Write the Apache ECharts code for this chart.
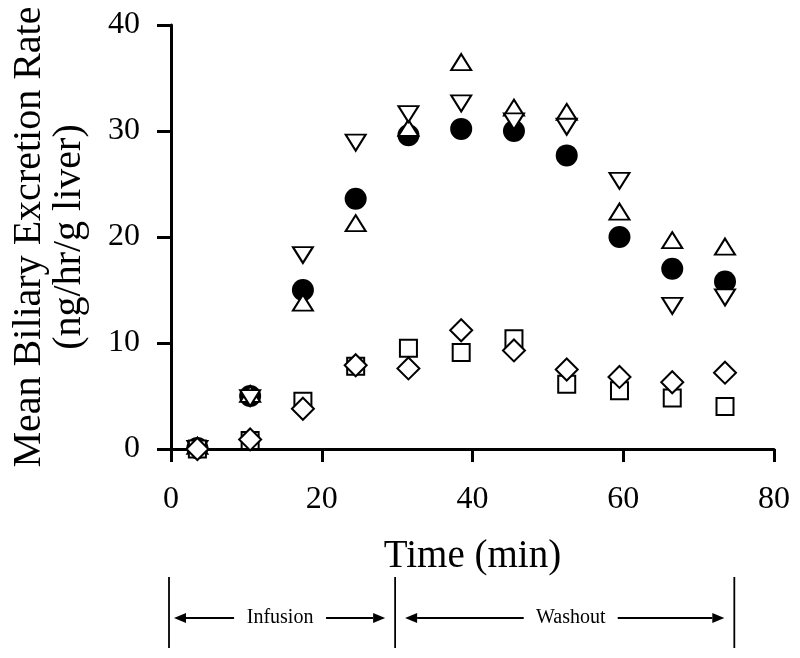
<!DOCTYPE html>
<html>
<head>
<meta charset="utf-8">
<script src="https://cdn.jsdelivr.net/npm/echarts@6/dist/echarts.min.js"></script>
<style>
html,body{margin:0;padding:0;background:#fff;}
#chart{width:800px;height:658px;}
</style>
</head>
<body>
<div id="chart"></div>
<script>
// ---- data ----
const timeMin = [3.5, 10.5, 17.5, 24.5, 31.5, 38.5, 45.5, 52.5, 59.5, 66.5, 73.5];
const filledCircle = [0.1, 5.0, 15.0, 23.6, 29.6, 30.2, 30.0, 27.7, 20.0, 17.0, 15.8];
const openTriUp    = [0.3, 5.2, 13.8, 21.3, 30.3, 36.5, 32.2, 31.8, 22.4, 19.7, 19.1];
const openTriDown  = [0.0, 4.8, 18.3, 28.9, 31.6, 32.6, 30.9, 30.4, 25.3, 13.5, 14.3];
const openSquare   = [0.0, 0.8, 4.5, 7.8, 9.5, 9.1, 10.4, 6.1, 5.5, 4.8, 4.0];
const openDiamond  = [0.0, 0.9, 3.8, 7.9, 7.6, 11.2, 9.3, 7.5, 6.8, 6.3, 7.2];
const xTicks = [0, 20, 40, 60, 80];
const yTicks = [0, 10, 20, 30, 40];
const phases = [
  { label: 'Infusion', start: 0, end: 30 },
  { label: 'Washout', start: 30, end: 75 }
];
const xTitle = 'Time (min)';
const yTitle = 'Mean Biliary Excretion Rate\n(ng/hr/g liver)';

const FONT = '"Liberation Serif", "Times New Roman", serif';
const pairs = arr => timeMin.map((t, i) => [t, arr[i]]);

const chart = echarts.init(document.getElementById('chart'), null, { renderer: 'canvas' });

const openStyle = { color: '#fff', borderColor: '#000', borderWidth: 2, opacity: 1 };

const option = {
  animation: false,
  backgroundColor: '#fff',
  grid: { left: 171, right: 26, top: 25, bottom: 209, containLabel: false },
  xAxis: {
    type: 'value',
    min: xTicks[0], max: xTicks[xTicks.length - 1], interval: xTicks[1] - xTicks[0],
    name: xTitle, nameLocation: 'middle', nameGap: 88,
    nameTextStyle: { fontFamily: FONT, fontSize: 39, color: '#000' },
    axisLine: { show: true, lineStyle: { color: '#000', width: 3 } },
    axisTick: { show: true, inside: false, length: 13, lineStyle: { color: '#000', width: 3 } },
    axisLabel: { fontFamily: FONT, fontSize: 32, color: '#000', margin: 35 },
    splitLine: { show: false }
  },
  yAxis: {
    type: 'value',
    min: yTicks[0], max: yTicks[yTicks.length - 1], interval: yTicks[1] - yTicks[0],
    name: yTitle, nameLocation: 'middle', nameGap: 82, nameRotate: 90,
    nameTextStyle: { fontFamily: FONT, fontSize: 40, lineHeight: 40, color: '#000', align: 'center' },
    axisLine: { show: true, lineStyle: { color: '#000', width: 3 } },
    axisTick: { show: true, inside: false, length: 14, lineStyle: { color: '#000', width: 3 } },
    axisLabel: { fontFamily: FONT, fontSize: 32, color: '#000', margin: 31, padding: [8, 0, 0, 0] },
    splitLine: { show: false }
  },
  series: [
    { name: 'circle', type: 'scatter', data: pairs(filledCircle), symbol: 'circle', symbolSize: 22,
      itemStyle: { color: '#000', opacity: 1 }, z: 2 },
    { name: 'up', type: 'scatter', data: pairs(openTriUp), symbol: 'triangle', symbolSize: [20, 16],
      itemStyle: openStyle, z: 3 },
    { name: 'down', type: 'scatter', data: pairs(openTriDown), symbol: 'triangle', symbolSize: [20, 16],
      symbolRotate: 180, itemStyle: openStyle, z: 4 },
    { name: 'square', type: 'scatter', data: pairs(openSquare), symbol: 'rect', symbolSize: 17,
      itemStyle: openStyle, z: 5 },
    { name: 'diamond', type: 'scatter', data: pairs(openDiamond), symbol: 'diamond', symbolSize: 22,
      itemStyle: openStyle, z: 6 }
  ]
};
chart.setOption(option);

// ---- phase annotation below the axis ----
const yTop = 577, yBot = 648, yArrow = 618;
const graphics = [];
const bounds = new Set();
phases.forEach(p => { bounds.add(p.start); bounds.add(p.end); });
bounds.forEach(v => {
  const x = chart.convertToPixel({ xAxisIndex: 0 }, v) - 2;
  graphics.push({ type: 'line', shape: { x1: x, y1: yTop, x2: x, y2: yBot },
    style: { stroke: '#000', lineWidth: 1.8 } });
});
function arrow(xFrom, xTip) {
  const dir = xTip > xFrom ? 1 : -1;
  const headLen = 12, headHalf = 5;
  graphics.push({ type: 'line', shape: { x1: xFrom, y1: yArrow, x2: xTip - dir * headLen, y2: yArrow },
    style: { stroke: '#000', lineWidth: 1.8 } });
  graphics.push({ type: 'polygon', shape: { points: [[xTip, yArrow], [xTip - dir * headLen, yArrow - headHalf], [xTip - dir * headLen, yArrow + headHalf]] },
    style: { fill: '#000' } });
}
phases.forEach((p, i) => {
  const x0 = chart.convertToPixel({ xAxisIndex: 0 }, p.start) - 2;
  const x1 = chart.convertToPixel({ xAxisIndex: 0 }, p.end) - 2;
  const mid = (x0 + x1) / 2 + (i === 0 ? -2 : 6);
  const halfText = i === 0 ? 33 : 34;
  const gap = 13;
  const inset = i === 0 ? 5 : 10;
  graphics.push({ type: 'text', x: mid, y: yArrow,
    style: { text: p.label, fontFamily: FONT, fontSize: 20, fill: '#000', align: 'center', verticalAlign: 'middle' } });
  arrow(mid - halfText - gap, x0 + inset);
  arrow(mid + halfText + gap, x1 - 10);
});
chart.setOption({ graphic: graphics });
</script>
</body>
</html>
